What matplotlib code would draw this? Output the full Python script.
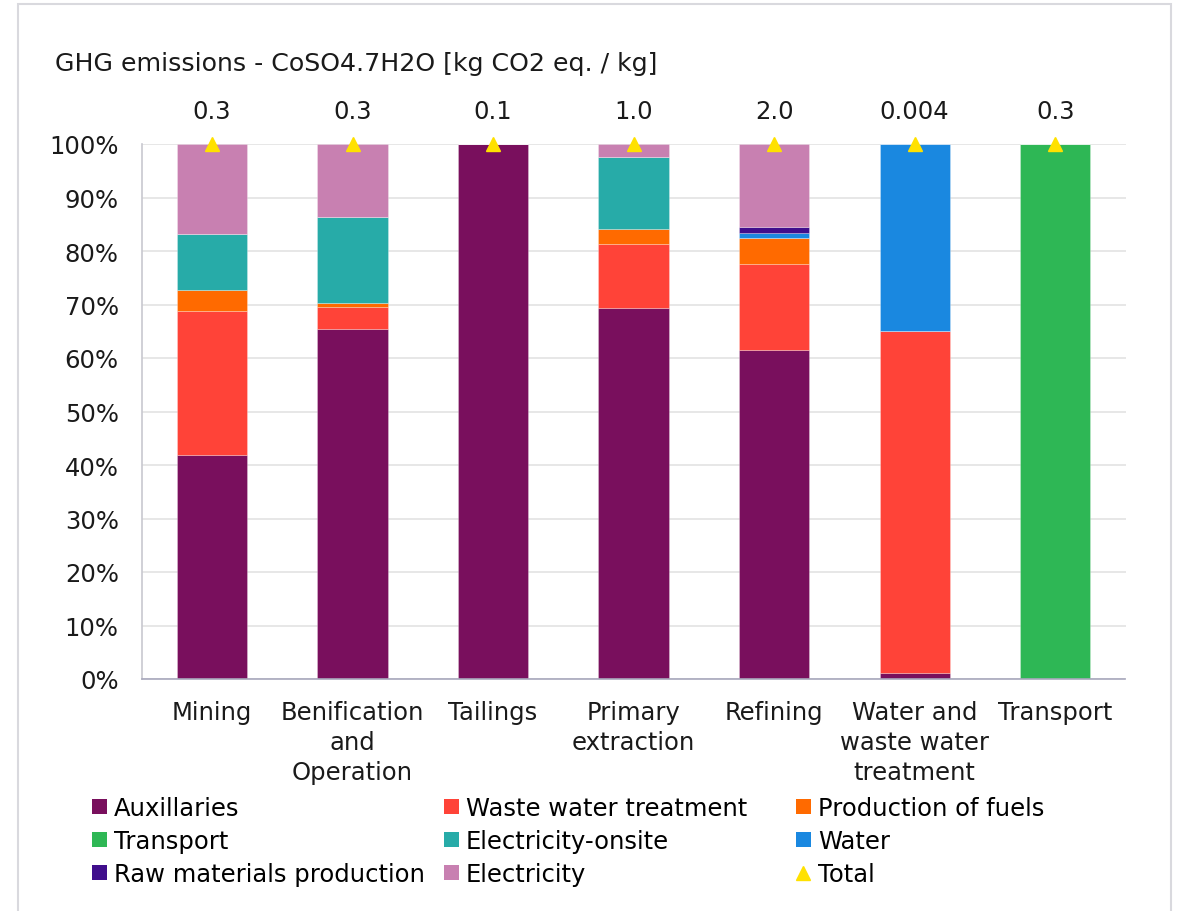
import matplotlib
matplotlib.use("Agg")
import matplotlib.pyplot as plt
from matplotlib.patches import Patch, Rectangle
from matplotlib.lines import Line2D
import numpy as np

plt.rcParams['font.family'] = ['DejaVu Sans']

title = "GHG emissions - CoSO4.7H2O [kg CO2 eq. / kg]"
categories = ["Mining", "Benification\nand\nOperation", "Tailings", "Primary\nextraction",
              "Refining", "Water and\nwaste water\ntreatment", "Transport"]
total_labels = ["0.3", "0.3", "0.1", "1.0", "2.0", "0.004", "0.3"]

# shares in percent, per category
auxillaries      = [41.9, 65.4, 100.0, 69.3, 61.5, 1.2, 0.0]
waste_water      = [26.9, 4.1, 0.0, 12.1, 16.0, 63.8, 0.0]
production_fuels = [3.9, 0.8, 0.0, 2.8, 4.9, 0.0, 0.0]
transport        = [0.0, 0.0, 0.0, 0.0, 0.0, 0.0, 100.0]
electricity_on   = [10.4, 16.1, 0.0, 13.4, 0.0, 0.0, 0.0]
water            = [0.0, 0.0, 0.0, 0.0, 1.0, 35.0, 0.0]
raw_materials    = [0.0, 0.0, 0.0, 0.0, 1.0, 0.0, 0.0]
electricity      = [16.9, 13.6, 0.0, 2.4, 15.6, 0.0, 0.0]
total_position   = [100, 100, 100, 100, 100, 100, 100]

series = [
    ("Auxillaries", auxillaries, "#790F5D"),
    ("Waste water treatment", waste_water, "#FF4338"),
    ("Production of fuels", production_fuels, "#FF6A00"),
    ("Transport", transport, "#2EB755"),
    ("Electricity-onsite", electricity_on, "#27ABA8"),
    ("Water", water, "#1A88E0"),
    ("Raw materials production", raw_materials, "#400E8C"),
    ("Electricity", electricity, "#C880B1"),
]

FS = 17.5
W, H = 1178, 912
fig = plt.figure(figsize=(W / 100, H / 100), dpi=100)
ax = fig.add_axes([141.7 / W, 1 - 680 / H, (1125.5 - 141.7) / W, (680 - 145) / H])

x = np.arange(len(categories))
bottom = np.zeros(len(categories))
handles = {}
for name, vals, col in series:
    v = np.array(vals, dtype=float)
    ax.bar(x, v, 0.5, bottom=bottom, color=col, edgecolor=(1, 1, 1, 0.3), linewidth=0.6, zorder=2)
    bottom += v
    handles[name] = Patch(facecolor=col, edgecolor='none')

ax.plot(x, total_position, linestyle='none', marker='^', color='#FFE100', markersize=10,
        clip_on=False, zorder=4)
handles["Total"] = Line2D([], [], linestyle='none', marker='^', color='#FFE100', markersize=10)

for xi, lab in zip(x, total_labels):
    ax.text(xi, 106.2, lab, ha='center', va='center', fontsize=FS, color='#1a1a1a',
            clip_on=False)

ax.set_xlim(-0.5, len(categories) - 0.5)
ax.set_ylim(0, 100)
ax.set_yticks(np.arange(0, 101, 10))
ax.set_yticklabels([f"{v}%" for v in range(0, 101, 10)], fontsize=FS, color='#1a1a1a')
ax.set_xticks(x)
ax.set_xticklabels(categories, fontsize=FS, color='#1a1a1a', linespacing=1.31)
ax.tick_params(axis='both', length=0)
ax.tick_params(axis='y', pad=16.5)
ax.tick_params(axis='x', pad=15)
ax.grid(axis='y', color='#E3E3E3', linewidth=1.2, zorder=0)
ax.set_axisbelow(True)
for s in ['top', 'right']:
    ax.spines[s].set_visible(False)
ax.spines['left'].set_color('#C8C8D0')
ax.spines['bottom'].set_color('#A8A8BC')
ax.spines['left'].set_linewidth(1.2)
ax.spines['bottom'].set_linewidth(1.2)

fig.text(55 / W, 1 - 64 / H, title, fontsize=18.2, ha='left', va='center', color='#1a1a1a')

# legend: three columns placed explicitly (row-major reading order as in the reference)
cols = [["Auxillaries", "Transport", "Raw materials production"],
        ["Waste water treatment", "Electricity-onsite", "Electricity"],
        ["Production of fuels", "Water", "Total"]]
col_x = [92, 444, 796]
for cx, names in zip(col_x, cols):
    fig.legend([handles[n] for n in names], names, loc='upper left',
               bbox_to_anchor=(cx / W, 1 - 797 / H), frameon=False, fontsize=FS,
               handlelength=0.6, handleheight=0.6, handletextpad=0.3,
               labelspacing=0.37, borderaxespad=0, borderpad=0)

fig.add_artist(Rectangle((18 / W, -0.02), (1170.7 - 18) / W, 1.02 - 5 / H,
                         transform=fig.transFigure, fill=False, edgecolor='#D9D9DE',
                         linewidth=1.5))

fig.savefig("out.png", dpi=100)
